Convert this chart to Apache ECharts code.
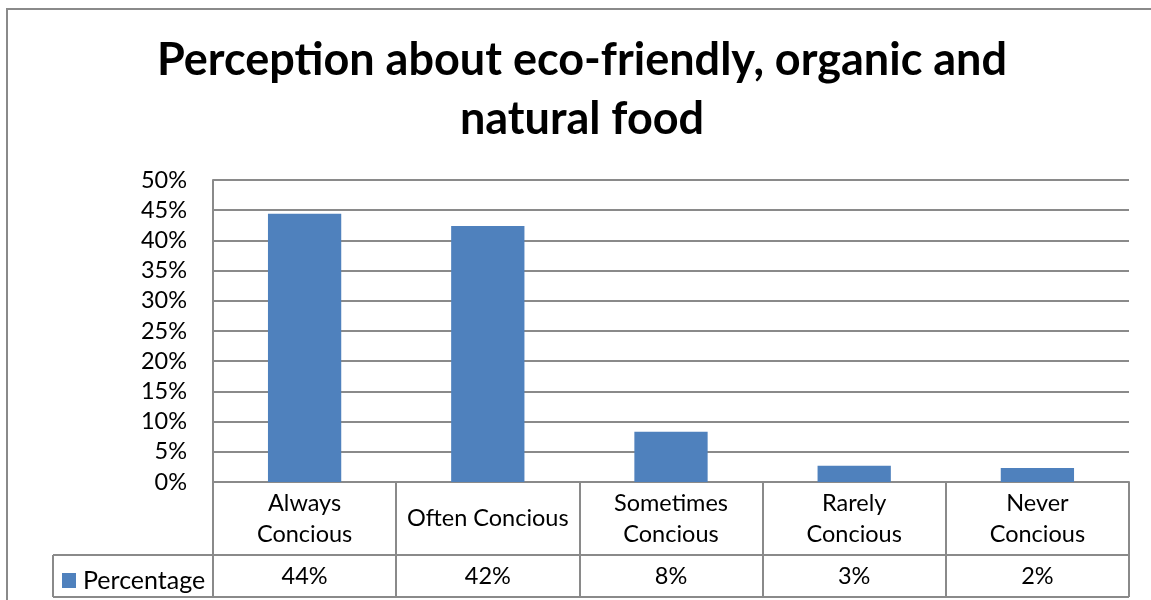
<!DOCTYPE html>
<html>
<head>
<meta charset="utf-8">
<script src="https://cdn.jsdelivr.net/npm/echarts@6/dist/echarts.min.js"></script>
<style>
html,body{margin:0;padding:0;background:#fff;}
#chart{width:1151px;height:600px;}
</style>
</head>
<body>
<div id="chart"></div>
<script>
// ---- data ----
const titleText = 'Perception about eco-friendly, organic and\nnatural food';
const categories = ['Always\nConcious', 'Often Concious', 'Sometimes\nConcious', 'Rarely\nConcious', 'Never\nConcious'];
const seriesName = 'Percentage';
const values = [0.444, 0.424, 0.083, 0.027, 0.023];
const tableLabels = ['44%', '42%', '8%', '3%', '2%'];
const yTicks = { min: 0, max: 0.5, interval: 0.05 };

// ---- layout ----
const FONT = 'Lato, "Open Sans", sans-serif';
const W = 1151, H = 600;
const gLeft = 213, gRight = 22, gTop = 180, gBottom = 118;
const plotBottom = H - gBottom;        // 482
const rowSplit = 555, tableBottom = 597, tableLeft = 53;
const plotRight = W - gRight;
const lineColor = '#8a8a8a';
const LBL = 23.5;

const chart = echarts.init(document.getElementById('chart'), null, { renderer: 'canvas' });
chart.setOption({
  animation: false,
  backgroundColor: '#fff',
  title: {
    text: titleText,
    left: 582,
    top: 31,
    padding: 0,
    textAlign: 'center',
    textStyle: { fontFamily: FONT, fontWeight: 'bold', fontSize: 45, lineHeight: 59, color: '#000' }
  },
  legend: {
    data: [seriesName],
    left: 62, top: 568,
    padding: 0,
    icon: 'rect',
    itemWidth: 14, itemHeight: 15,
    textStyle: { fontFamily: FONT, fontSize: 25, color: '#000', padding: [0, 0, 3, 2] }
  },
  grid: { left: gLeft, right: gRight, top: gTop, bottom: gBottom, containLabel: false },
  xAxis: [
    {
      type: 'category',
      data: categories,
      boundaryGap: true,
      axisLine: { show: true, lineStyle: { color: lineColor, width: 2 } },
      axisTick: { show: true, length: tableBottom - plotBottom, alignWithLabel: false, interval: 0, lineStyle: { color: lineColor, width: 2 } },
      axisLabel: {
        interval: 0, margin: (rowSplit - plotBottom) / 2, verticalAlign: 'middle',
        fontFamily: FONT, fontSize: LBL, lineHeight: 31, color: '#000', align: 'center'
      },
      splitLine: { show: false }
    },
    {
      type: 'category',
      data: categories,
      position: 'bottom',
      axisLine: { show: false },
      axisTick: { show: false },
      axisLabel: {
        interval: 0, margin: (rowSplit + tableBottom) / 2 - plotBottom, verticalAlign: 'middle',
        fontFamily: FONT, fontSize: LBL, color: '#000',
        formatter: (v, i) => tableLabels[i]
      }
    }
  ],
  yAxis: {
    type: 'value',
    min: yTicks.min, max: yTicks.max, interval: yTicks.interval,
    axisLine: { show: true, lineStyle: { color: lineColor, width: 2 } },
    axisTick: { show: false },
    axisLabel: {
      margin: 26, fontFamily: FONT, fontSize: LBL, color: '#000',
      formatter: v => Math.round(v * 100) + '%'
    },
    splitLine: { show: true, lineStyle: { color: lineColor, width: 2 } }
  },
  series: [{
    name: seriesName,
    type: 'bar',
    data: values,
    barWidth: '40%',
    itemStyle: { color: '#4F81BD' }
  }],
  graphic: [
    { type: 'rect', silent: true, shape: { x: 7, y: 9, width: W + 20, height: H + 20 },
      style: { fill: 'none', stroke: lineColor, lineWidth: 2 } },
    { type: 'line', silent: true, shape: { x1: tableLeft, y1: rowSplit, x2: plotRight, y2: rowSplit },
      style: { stroke: lineColor, lineWidth: 2 } },
    { type: 'line', silent: true, shape: { x1: tableLeft, y1: tableBottom, x2: plotRight, y2: tableBottom },
      style: { stroke: lineColor, lineWidth: 2 } },
    { type: 'line', silent: true, shape: { x1: tableLeft, y1: rowSplit, x2: tableLeft, y2: tableBottom },
      style: { stroke: lineColor, lineWidth: 2 } }
  ]
});
</script>
</body>
</html>
